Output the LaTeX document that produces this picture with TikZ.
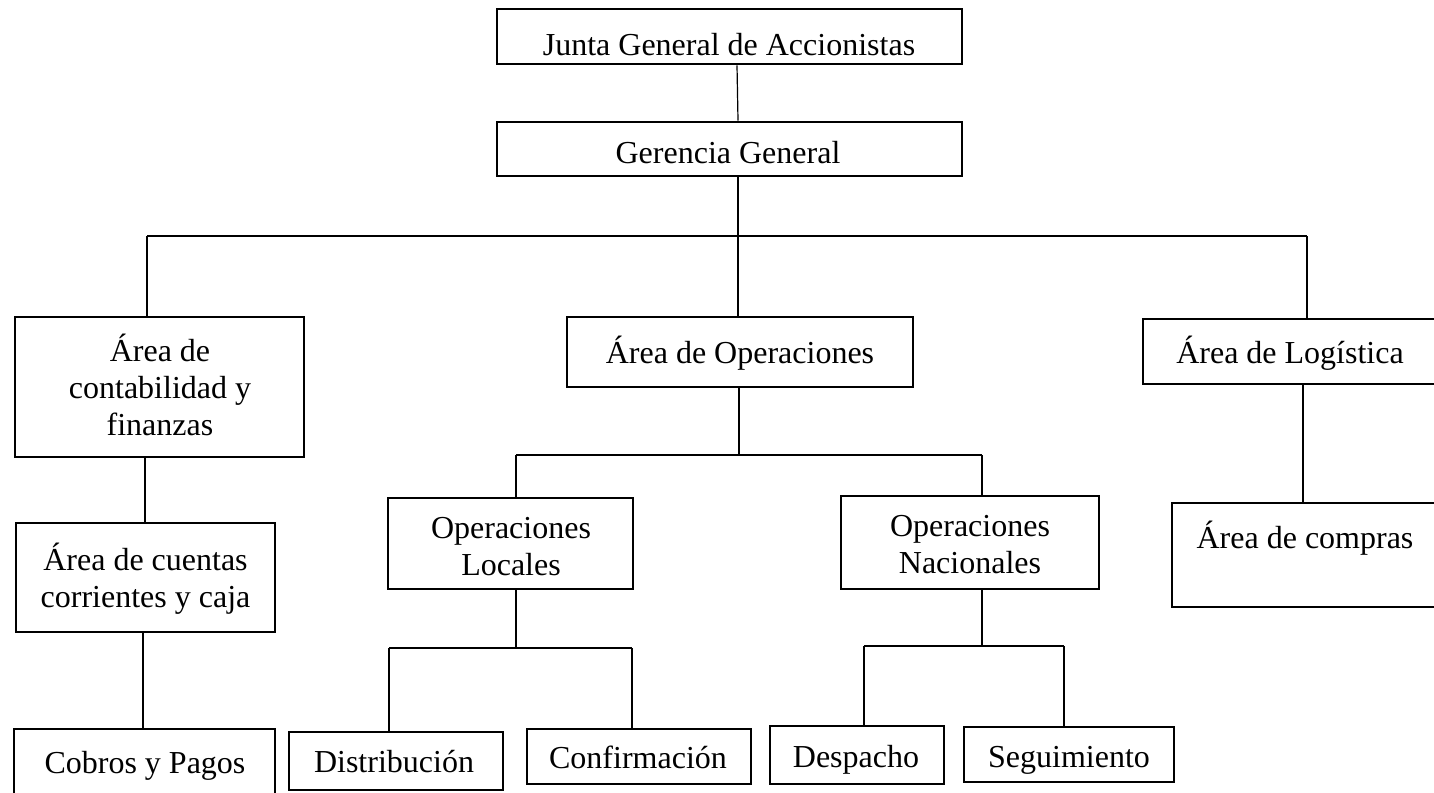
\documentclass[tikz,border=0pt]{standalone}
\usepackage{fontspec}
\setmainfont{Liberation Serif}
\usetikzlibrary{fit}
\begin{document}
\begin{tikzpicture}[x=1pt,y=-1pt,
  box/.style={draw, line width=2.8pt, inner sep=0pt},
  lbl/.style={inner sep=0pt, font=\fontsize{32}{37}\selectfont, align=center, anchor=base},
  conn/.style={line width=1.2pt}]
\useasboundingbox (0,0) rectangle (1434,792);
\clip (0,0) rectangle (1434,792);
% boxes
\node[box, fit={(497,9) (962,64)}] (junta) {};
\node[box, fit={(497,122) (962,176)}] (ger) {};
\node[box, fit={(15,317) (304,457)}] (contab) {};
\node[box, fit={(567,317) (913,387)}] (oper) {};
\node[box, fit={(1143,319) (1437,384)}] (logist) {};
\node[box, fit={(16,523) (275,632)}] (cuentas) {};
\node[box, fit={(388,498) (633,589)}] (oploc) {};
\node[box, fit={(841,496) (1099,589)}] (opnac) {};
\node[box, fit={(1172,503) (1438,607)}] (compras) {};
\node[box, fit={(14,729) (275,805)}] (cobros) {};
\node[box, fit={(289,732) (503,790)}] (distrib) {};
\node[box, fit={(527,729) (751,784)}] (confirm) {};
\node[box, fit={(770,726) (944,784)}] (desp) {};
\node[box, fit={(964,727) (1174,782)}] (seg) {};
% texts (anchor=base: baseline of the last line)
\node[lbl] (tjunta) at (729,56) {Junta General de Accionistas};
\node[lbl] (tger) at (728,163) {Gerencia General};
\node[lbl] (tcontab) at (160,435) {Área de\\contabilidad y\\finanzas};
\node[lbl] (tcuentas) at (145.5,607) {Área de cuentas\\corrientes y caja};
\node[lbl] (tcobros) at (145,773) {Cobros y Pagos};
\node[lbl] (toper) at (740,363) {Área de Operaciones};
\node[lbl] (tlog) at (1290,363) {Área de Logística};
\node[lbl] (tcompras) at (1305,548) {Área de compras};
\node[lbl] (toploc) at (511,575) {Operaciones\\Locales};
\node[lbl] (topnac) at (970,573) {Operaciones\\Nacionales};
\node[lbl] (tdist) at (394,772) {Distribución};
\node[lbl] (tconf) at (638,768) {Confirmación};
\node[lbl] (tdesp) at (856,767) {Despacho};
\node[lbl] (tseg) at (1069,767) {Seguimiento};
% bus coordinates
\coordinate (b1L) at (147,236);
\coordinate (b1R) at (1307,236);
\coordinate (b2L) at (516,455);
\coordinate (b2R) at (982,455);
\coordinate (b3L) at (389,648);
\coordinate (b3R) at (632,648);
\coordinate (b4L) at (864,646);
\coordinate (b4R) at (1064,646);
% connectors
\draw[conn] ([xshift=7.5pt]junta.south) -- ([xshift=8.5pt]ger.north);
\draw[conn] ([xshift=8.5pt]ger.south) -- ([xshift=-2pt]oper.north);
\draw[conn] (b1L) -- (b1R);
\draw[conn] (b1L) -- (b1L |- contab.north);
\draw[conn] (b1R) -- (b1R |- logist.north);
\draw[conn] ([xshift=-1pt]oper.south) -- ([xshift=-1pt]oper.south |- b2L);
\draw[conn] (b2L) -- (b2R);
\draw[conn] (b2L) -- (b2L |- oploc.north);
\draw[conn] (b2R) -- (b2R |- opnac.north);
\draw[conn] ([xshift=-14.5pt]contab.south) -- ([xshift=-0.5pt]cuentas.north);
\draw[conn] ([xshift=-2.5pt]cuentas.south) -- ([xshift=-1.5pt]cobros.north);
\draw[conn] ([xshift=13pt]logist.south) -- ([xshift=-2pt]compras.north);
\draw[conn] ([xshift=5.5pt]oploc.south) -- ([xshift=5.5pt]oploc.south |- b3L);
\draw[conn] (b3L) -- (b3R);
\draw[conn] (b3L) -- (b3L |- distrib.north);
\draw[conn] (b3R) -- (b3R |- confirm.north);
\draw[conn] ([xshift=12pt]opnac.south) -- ([xshift=12pt]opnac.south |- b4L);
\draw[conn] (b4L) -- (b4R);
\draw[conn] (b4L) -- (b4L |- desp.north);
\draw[conn] (b4R) -- (b4R |- seg.north);
\end{tikzpicture}
\end{document}
